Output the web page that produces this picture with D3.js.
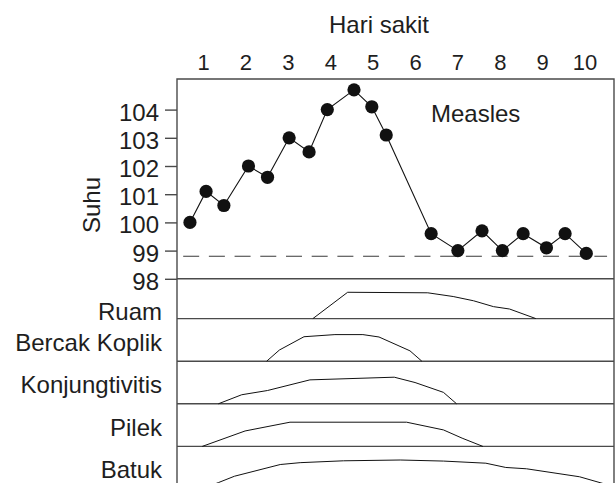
<!DOCTYPE html>
<html>
<head>
<meta charset="utf-8">
<script src="https://cdn.jsdelivr.net/npm/d3@7"></script>
<style>
  html, body { margin: 0; padding: 0; background: #fff; }
  svg { display: block; font-family: "Liberation Sans", Arial, Helvetica, sans-serif; }
</style>
</head>
<body>
<svg id="chart" width="615" height="483"></svg>
<script>
// ---- data ----
const dayTicks = [1, 2, 3, 4, 5, 6, 7, 8, 9, 10];
const tempTicks = [98, 99, 100, 101, 102, 103, 104];

// temperature readings (°F), twice a day
const tempDays = [0.69, 1.07, 1.49, 2.07, 2.52, 3.03, 3.50, 3.93, 4.56, 4.98,
                  5.32, 6.38, 7.01, 7.58, 8.06, 8.55, 9.10, 9.54, 10.04];
const tempValues = [100.0, 101.1, 100.6, 102.0, 101.6, 103.0, 102.5, 104.0, 104.7, 104.1,
                    103.1, 99.6, 99.0, 99.7, 99.0, 99.6, 99.1, 99.6, 98.9];

// normal temperature reference
const normalTemp = 98.8;
const normalDays = [0.53, 10.53];

const diseaseName = "Measles";
const symptomNames = ["Ruam", "Bercak Koplik", "Konjungtivitis", "Pilek", "Batuk"];

// symptom intensity profiles (relative intensity vs. day)
const ruamDays = [3.59, 4.41, 6.30, 6.90, 7.38, 7.85, 8.23, 8.85];
const ruamLevels = [0, 0.99, 0.97, 0.83, 0.67, 0.45, 0.36, 0];

const koplikDays = [2.50, 2.80, 3.38, 4.11, 4.77, 5.15, 5.88, 6.16];
const koplikLevels = [0, 0.42, 0.92, 1.0, 1.0, 0.91, 0.39, 0];

const konjDays = [1.36, 1.91, 2.52, 3.52, 5.51, 6.00, 6.67, 6.98];
const konjLevels = [0, 0.34, 0.50, 0.90, 1.0, 0.80, 0.43, 0];

const pilekDays = [0.98, 1.99, 3.05, 5.80, 6.67, 7.11, 7.60];
const pilekLevels = [0, 0.58, 0.91, 0.91, 0.62, 0.31, 0];

const batukDays = [0.96, 1.36, 1.74, 2.82, 3.29, 4.31, 5.65, 6.67, 7.67, 8.14, 8.63, 9.88, 10.34, 10.69];
const batukLevels = [0, 0.24, 0.48, 0.92, 0.99, 1.06, 1.09, 1.05, 0.97, 0.81, 0.76, 0.46, 0.25, 0.09];

const symptomSeries = [
  { name: symptomNames[0], days: ruamDays, levels: ruamLevels },
  { name: symptomNames[1], days: koplikDays, levels: koplikLevels },
  { name: symptomNames[2], days: konjDays, levels: konjLevels },
  { name: symptomNames[3], days: pilekDays, levels: pilekLevels },
  { name: symptomNames[4], days: batukDays, levels: batukLevels }
];

// ---- layout ----
const W = 615, H = 483;
const plotLeft = 177, plotRight = 614, plotTop = 79;
const frameColor = "#4a4a4a";
const textColor = "#1e1e1e";

const svg = d3.select("#chart");

const x = d3.scaleLinear().domain([1, 10]).range([203.1, 584.6]);
const y = d3.scaleLinear().domain([98, 104]).range([278.8, 109.6]);
const panel = d3.scaleBand().domain(symptomNames).range([276, 489]);
const level = d3.scaleLinear().domain([0, 1]).range([0, 26.6]);

const clip = svg.append("clipPath").attr("id", "plotClip")
  .append("rect")
  .attr("x", plotLeft).attr("y", plotTop)
  .attr("width", plotRight - plotLeft).attr("height", H - plotTop);

// frame: top, right, left
svg.append("path")
  .attr("d", `M${plotLeft},${H} V${plotTop} H${plotRight} V${H}`)
  .attr("fill", "none")
  .attr("stroke", frameColor)
  .attr("stroke-width", 1.4);

// baseline at 98 and symptom panel baselines
svg.append("line")
  .attr("x1", plotLeft).attr("x2", plotRight)
  .attr("y1", y(98)).attr("y2", y(98))
  .attr("stroke", frameColor).attr("stroke-width", 1.4);

svg.append("g").selectAll("line")
  .data(symptomNames)
  .join("line")
  .attr("x1", plotLeft).attr("x2", plotRight)
  .attr("y1", d => panel(d) + panel.bandwidth())
  .attr("y2", d => panel(d) + panel.bandwidth())
  .attr("stroke", frameColor).attr("stroke-width", 1.4);

// left temperature axis
const yAxis = d3.axisLeft(y)
  .tickValues(tempTicks)
  .tickSize(12)
  .tickPadding(6)
  .tickFormat(d3.format("d"));

const yg = svg.append("g")
  .attr("transform", `translate(${plotLeft},0)`)
  .call(yAxis);
yg.select(".domain").remove();
yg.selectAll(".tick line").attr("stroke", frameColor).attr("stroke-width", 1.4);
yg.selectAll(".tick text")
  .attr("dy", "0.44em")
  .attr("fill", textColor)
  .style("font-size", "24px");

// top day axis (labels only)
const xAxis = d3.axisTop(x)
  .tickValues(dayTicks)
  .tickSize(0)
  .tickPadding(9)
  .tickFormat(d3.format("d"));

const xg = svg.append("g")
  .attr("transform", `translate(0,${plotTop})`)
  .call(xAxis);
xg.select(".domain").remove();
xg.selectAll(".tick text")
  .attr("fill", textColor)
  .style("font-size", "22px");

// axis titles
svg.append("text")
  .attr("x", 379).attr("y", 33)
  .attr("text-anchor", "middle")
  .attr("fill", textColor)
  .style("font-size", "24px")
  .text("Hari sakit");

svg.append("text")
  .attr("transform", "translate(100,205) rotate(-90)")
  .attr("text-anchor", "middle")
  .attr("fill", textColor)
  .style("font-size", "24px")
  .text("Suhu");

svg.append("text")
  .attr("x", 431).attr("y", 121.5)
  .attr("fill", textColor)
  .style("font-size", "24px")
  .text(diseaseName);

// normal temperature (dashed)
svg.append("line")
  .attr("x1", x(normalDays[0])).attr("x2", x(normalDays[1]))
  .attr("y1", y(normalTemp)).attr("y2", y(normalTemp))
  .attr("stroke", "#3a3a3a")
  .attr("stroke-width", 1.2)
  .attr("stroke-dasharray", "16,9.7");

// temperature curve
const tempPts = tempDays.map((d, i) => [d, tempValues[i]]);
svg.append("path")
  .datum(tempPts)
  .attr("fill", "none")
  .attr("stroke", "#111")
  .attr("stroke-width", 1.1)
  .attr("d", d3.line().x(d => x(d[0])).y(d => y(d[1])));

svg.append("g").selectAll("circle")
  .data(tempPts)
  .join("circle")
  .attr("cx", d => x(d[0]))
  .attr("cy", d => y(d[1]))
  .attr("r", 6.6)
  .attr("fill", "#111");

// symptom panels
const sg = svg.append("g").attr("clip-path", "url(#plotClip)");
symptomSeries.forEach(s => {
  const base = panel(s.name) + panel.bandwidth();
  const pts = s.days.map((d, i) => [d, s.levels[i]]);
  sg.append("path")
    .datum(pts)
    .attr("fill", "none")
    .attr("stroke", "#111")
    .attr("stroke-width", 1)
    .attr("d", d3.line().x(d => x(d[0])).y(d => base - level(d[1])));
});

// symptom labels; the first sits low in its band, under the 98 tick label
svg.append("g").selectAll("text")
  .data(symptomNames)
  .join("text")
  .attr("x", 162)
  .attr("y", (d, i) => i === 0
    ? panel(d) + panel.bandwidth() + 1.5
    : panel(d) + panel.bandwidth() / 2 + 10.6)
  .attr("text-anchor", "end")
  .attr("fill", textColor)
  .style("font-size", "24px")
  .text(d => d);
</script>
</body>
</html>
